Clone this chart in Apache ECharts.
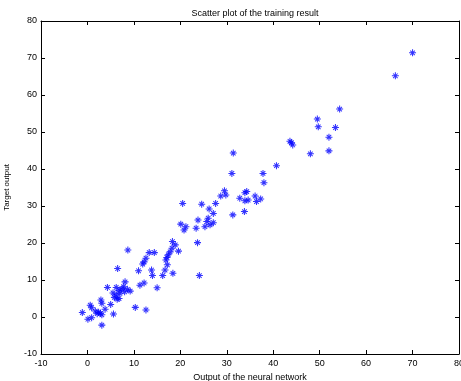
<!DOCTYPE html>
<html><head><meta charset="utf-8">
<script src="https://cdn.jsdelivr.net/npm/echarts@6/dist/echarts.min.js"></script>
<style>html,body{margin:0;padding:0;background:#fff}#c{width:461px;height:381px}</style>
</head><body><div id="c"></div>
<script>
const chartTitle = 'Scatter plot of the training result';
const xName = 'Output of the neural network';
const yName = 'Target output';
const xTicks = [-10, 0, 10, 20, 30, 40, 50, 60, 70, 80];
const yTicks = [-10, 0, 10, 20, 30, 40, 50, 60, 70, 80];

// network output (x) and target (y)
const networkOutput = [
  -1.1, 0.1, 0.9, 0.6, 0.9, 1.7, 2.1, 2.8, 3.1, 2.4, 3.1, 3.8, 2.9, 3.1, 5.0, 5.6,
  4.3, 5.5, 5.8, 6.2, 6.8, 6.4, 6.2, 6.8, 7.4, 8.0, 8.6, 9.2, 7.0, 7.8, 8.1, 6.5,
  8.7, 10.3, 12.6, 11.3, 12.2, 11.0, 15.0, 13.3, 14.4, 12.6, 12.2, 11.9, 13.8, 14.0,
  16.2, 16.7, 17.2, 16.9, 17.1, 17.4, 17.8, 18.2, 18.3, 18.9, 19.6, 18.4,
  20.5, 20.1, 21.2, 20.8, 23.4, 23.8, 23.7, 24.1, 24.6,
  25.3, 25.7, 26.0, 26.4, 27.1, 26.2, 27.1, 27.6, 28.7, 29.5, 29.8, 31.3, 31.1, 31.4,
  32.8, 33.9, 34.6, 34.3, 33.9, 33.8, 36.1, 36.4, 37.3, 37.8, 38.0, 40.7,
  43.6, 43.9, 44.2, 48.0, 49.5, 49.7, 52.0, 52.0, 53.4, 54.3, 66.3, 70.0
];
const targetOutput = [
  1.2, -0.6, -0.2, 3.2, 2.5, 1.6, 0.9, 1.0, 0.6, 1.3, -2.2, 2.1, 4.6, 3.7, 3.4, 0.8,
  8.0, 6.5, 5.3, 6.0, 5.0, 4.8, 8.0, 7.2, 7.6, 6.8, 7.5, 7.0, 6.4, 8.2, 9.5, 13.1,
  18.1, 2.6, 1.9, 8.6, 9.2, 12.5, 7.9, 17.4, 17.4, 15.9, 14.9, 14.3, 12.7, 11.2,
  11.2, 12.7, 14.1, 15.4, 16.1, 16.8, 17.6, 18.6, 20.4, 19.5, 17.8, 11.8,
  30.7, 25.1, 24.4, 23.5, 24.0, 26.2, 20.1, 11.2, 30.5,
  24.4, 25.8, 26.7, 24.9, 25.5, 29.2, 28.0, 30.7, 32.7, 34.1, 33.0, 27.6, 38.8, 44.3,
  32.1, 31.4, 31.6, 33.9, 33.6, 28.5, 32.7, 31.2, 31.9, 38.8, 36.3, 40.9,
  47.5, 47.1, 46.5, 44.1, 53.5, 51.4, 48.6, 44.9, 51.2, 56.2, 65.2, 71.4
];

const points = networkOutput.map((v, i) => [v, targetOutput[i]]);
const asterisk = 'path://M3.4,0 L4.6,0 L4.6,8 L3.4,8 Z M0,3.4 L8,3.4 L8,4.6 L0,4.6 Z ' +
  'M1.0,1.8 L1.8,1.0 L7.0,6.2 L6.2,7.0 Z M6.2,1.0 L7.0,1.8 L1.8,7.0 L1.0,6.2 Z';

const font = 'Liberation Sans, Arial, Helvetica, sans-serif';
const lineSt = { color: '#000', width: 1 };
function axisBase(ticks, extra) {
  return Object.assign({
    type: 'value', min: ticks[0], max: ticks[ticks.length - 1], interval: ticks[1] - ticks[0],
    axisLine: { show: true, onZero: false, lineStyle: lineSt },
    axisTick: { show: true, inside: true, length: 4, lineStyle: lineSt },
    splitLine: { show: false },
    axisLabel: { show: false }
  }, extra);
}

const chart = echarts.init(document.getElementById('c'), null, { renderer: 'canvas' });
chart.setOption({
  animation: false,
  backgroundColor: '#fff',
  title: {
    text: chartTitle, left: 250, top: 4, textAlign: 'center',
    textStyle: { fontSize: 9, fontWeight: 'normal', color: '#000', fontFamily: font }
  },
  grid: { left: 41, right: 2, top: 21, bottom: 27, containLabel: false, outerBoundsMode: 'none' },
  xAxis: [
    axisBase(xTicks, {
      position: 'bottom',
      axisLabel: { show: true, fontSize: 9, color: '#000', margin: 5, fontFamily: font },
      name: xName, nameLocation: 'middle', nameGap: 17,
      nameTextStyle: { fontSize: 9, color: '#000', fontFamily: font }
    }),
    axisBase(xTicks, { position: 'top' })
  ],
  yAxis: [
    axisBase(yTicks, {
      position: 'left',
      axisLabel: { show: true, fontSize: 9, color: '#000', margin: 4, fontFamily: font },
      name: yName, nameLocation: 'middle', nameGap: 30, nameRotate: 90,
      nameTextStyle: { fontSize: 8, color: '#000', fontFamily: font }
    }),
    axisBase(yTicks, { position: 'right' })
  ],
  series: [{
    type: 'scatter', xAxisIndex: 0, yAxisIndex: 0,
    data: points, symbol: asterisk, symbolSize: 7,
    itemStyle: { color: '#0000ff' }
  }]
});
</script></body></html>
